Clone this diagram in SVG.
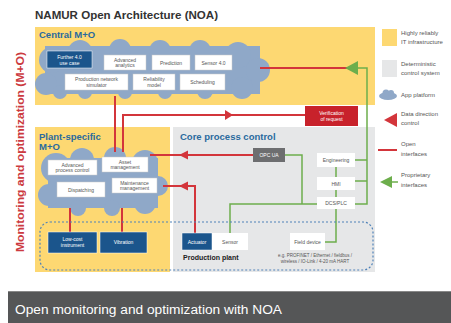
<svg xmlns="http://www.w3.org/2000/svg" width="451" height="323" viewBox="0 0 451 323">
<style>
.t{font-family:"Liberation Sans",Arial,sans-serif}
.title{font-size:11px;font-weight:bold;fill:#333}
.area{font-size:9.5px;font-weight:bold;fill:#2A6A9E}
.nb{fill:#fff;stroke:#c8c8c8;stroke-width:0.5}
.nd{fill:#1B558C;stroke:#fff;stroke-width:0.5}
.nt{font-size:5px;fill:#555;text-anchor:middle}
.ntw{font-size:5px;fill:#fff;text-anchor:middle}
.leg{font-size:6px;fill:#555}
.cloud{fill:#8FA8C8}
.red{stroke:#D3353B;stroke-width:2;fill:none}
.green{stroke:#6DAE4C;stroke-width:1.5;fill:none}
.ra{fill:#D3353B}
.ga{fill:#6DAE4C}
</style>
<rect x="0" y="0" width="451" height="323" fill="#fff"/>
<text class="t title" x="35" y="19" textLength="183" lengthAdjust="spacingAndGlyphs">NAMUR Open Architecture (NOA)</text>
<text class="t" x="0" y="0" transform="translate(24,152) rotate(-90)" text-anchor="middle" font-size="10" font-weight="bold" fill="#CC3A40" textLength="200" lengthAdjust="spacingAndGlyphs">Monitoring and optimization (M+O)</text>

<!-- areas -->
<g id="central-area">
<rect x="35" y="27" width="340" height="78" fill="#FDD872"/>
<text class="t area" x="39" y="38">Central M+O</text>
</g>
<g id="plant-area">
<rect x="35" y="127" width="135" height="145" fill="#FDD872"/>
<text class="t area" x="39" y="140">Plant-specific</text>
<text class="t area" x="39" y="150">M+O</text>
</g>
<g id="core-area">
<rect x="173" y="127" width="202" height="145" fill="#E6E7E8"/>
<text class="t area" x="180" y="140">Core process control</text>
</g>

<!-- clouds -->
<g id="central-cloud" class="cloud">
<rect x="45" y="46" width="215" height="48"/>
<circle cx="52" cy="60" r="13"/>
<circle cx="46" cy="84" r="11"/>
<circle cx="80" cy="52" r="12"/>
<circle cx="120" cy="50" r="11"/>
<circle cx="160" cy="51" r="11"/>
<circle cx="200" cy="51" r="11"/>
<circle cx="238" cy="55" r="13"/>
<circle cx="258" cy="70" r="12"/>
<circle cx="242" cy="88" r="11"/>
<circle cx="205" cy="91" r="8"/>
<circle cx="165" cy="92" r="7"/>
<circle cx="125" cy="92" r="7"/>
<circle cx="85" cy="92" r="7"/>
<circle cx="60" cy="92" r="7"/>
</g>
<g id="plant-cloud" class="cloud">
<rect x="48" y="158" width="110" height="50"/>
<circle cx="56" cy="168" r="15"/>
<circle cx="49" cy="195" r="11"/>
<circle cx="82" cy="160" r="12"/>
<circle cx="115" cy="158" r="11"/>
<circle cx="145" cy="163" r="13"/>
<circle cx="158" cy="186" r="10"/>
<circle cx="145" cy="203" r="11"/>
<circle cx="112" cy="208" r="8"/>
<circle cx="78" cy="208" r="8"/>
</g>

<!-- connectors -->
<g id="connectors">
<path class="red" d="M260,68 H350"/>
<polygon class="ga" points="345,68 358,61 358,75"/>
<path class="green" d="M357,68 H367 V204 H355 M355,160 H367 M355,181 H367"/>
<path class="green" d="M336,167 V177 M336,190 V197 M336,209 V242 H325"/>
<path class="green" d="M285,155 H302 V204 M230,233 V204 H317"/>
<path class="red" d="M115,96 V152"/>
<path class="red" d="M123,152 V115 H305"/>
<polygon class="ra" points="233,115 225,110 225,120"/>
<path class="red" d="M150,155 H253"/>
<polygon class="ra" points="179,155 188,150.5 188,159.5"/>
<path class="red" d="M163,186 H195 V233"/>
<polygon class="ra" points="179,186 188,181.5 188,190.5"/>
<path class="red" d="M70,208 V232 M122,208 V232"/>
<rect x="40" y="222" width="333" height="48" rx="10" fill="none" stroke="#4F82B8" stroke-width="1.2" stroke-dasharray="2,2"/>
</g>

<!-- central nodes -->
<g id="n-further"><rect class="nd" x="47" y="51" width="45" height="17"/><text class="t ntw" x="69.5" y="58.5">Further 4.0</text><text class="t ntw" x="69.5" y="64.5">use case</text></g>
<g id="n-analytics"><rect class="nb" x="104" y="55" width="42" height="15"/><text class="t nt" x="125" y="61.5">Advanced</text><text class="t nt" x="125" y="67">analytics</text></g>
<g id="n-prediction"><rect class="nb" x="152" y="55" width="38" height="15"/><text class="t nt" x="171" y="64.5">Prediction</text></g>
<g id="n-sensor"><rect class="nb" x="195" y="55" width="37" height="15"/><text class="t nt" x="213.5" y="64.5">Sensor 4.0</text></g>
<g id="n-prodsim"><rect class="nb" x="65" y="74" width="63" height="16"/><text class="t nt" x="96.5" y="80.5">Production network</text><text class="t nt" x="96.5" y="86.5">simulator</text></g>
<g id="n-reliability"><rect class="nb" x="133" y="74" width="42" height="16"/><text class="t nt" x="154" y="80.5">Reliability</text><text class="t nt" x="154" y="86.5">model</text></g>
<g id="n-scheduling"><rect class="nb" x="180" y="74" width="45" height="16"/><text class="t nt" x="202.5" y="84">Scheduling</text></g>

<!-- plant nodes -->
<g id="n-apc"><rect class="nb" x="48" y="160" width="49" height="15"/><text class="t nt" x="72.5" y="166.5">Advanced</text><text class="t nt" x="72.5" y="172">process control</text></g>
<g id="n-asset"><rect class="nb" x="102" y="157" width="46" height="15"/><text class="t nt" x="125" y="163.5">Asset</text><text class="t nt" x="125" y="169">management</text></g>
<g id="n-dispatch"><rect class="nb" x="57" y="182" width="48" height="15"/><text class="t nt" x="81" y="191.5">Dispatching</text></g>
<g id="n-maint"><rect class="nb" x="112" y="178" width="45" height="15"/><text class="t nt" x="134.5" y="184.5">Maintenance</text><text class="t nt" x="134.5" y="190">management</text></g>

<!-- field -->
<g id="n-lowcost"><rect class="nd" x="48" y="232" width="49" height="21"/><text class="t ntw" x="72.5" y="241">Low-cost</text><text class="t ntw" x="72.5" y="247">instrument</text></g>
<g id="n-vibration"><rect class="nd" x="100" y="232" width="47" height="21"/><text class="t ntw" x="123.5" y="244">Vibration</text></g>
<g id="n-actuator"><rect class="nd" x="182" y="233" width="30" height="17"/><text class="t ntw" x="197" y="243.5">Actuator</text></g>
<g id="n-sensor2"><rect x="212" y="233" width="36" height="17" fill="#fff"/><text class="t nt" x="230" y="243.5">Sensor</text></g>
<g id="n-field"><rect x="290" y="233" width="35" height="17" fill="#fff"/><text class="t nt" x="307.5" y="243.5">Field device</text></g>
<text class="t" x="183" y="260" font-size="7" font-weight="bold" fill="#222">Production plant</text>
<text class="t" x="315" y="257" font-size="4.5" fill="#555" text-anchor="middle">e.g. PROFINET / Ethernet / fieldbus /</text>
<text class="t" x="315" y="263" font-size="4.5" fill="#555" text-anchor="middle">wireless / IO-Link / 4-20 mA HART</text>

<!-- core nodes -->
<g id="n-opcua"><rect x="253" y="148" width="32" height="14" fill="#6D6E70"/><text class="t ntw" x="269" y="157">OPC UA</text></g>
<g id="n-eng"><rect x="317" y="153" width="38" height="14" fill="#fff"/><text class="t nt" x="336" y="162">Engineering</text></g>
<g id="n-hmi"><rect x="317" y="177" width="38" height="13" fill="#fff"/><text class="t nt" x="336" y="185.5">HMI</text></g>
<g id="n-dcs"><rect x="317" y="197" width="38" height="12" fill="#fff"/><text class="t nt" x="336" y="205">DCS/PLC</text></g>
<g id="n-verify"><rect x="305" y="106" width="53" height="20" fill="#C8222B"/><text class="t ntw" x="331.5" y="114.5">Verification</text><text class="t ntw" x="331.5" y="120.5">of request</text></g>

<!-- legend -->
<g id="legend">
<rect x="382" y="29" width="15" height="17" fill="#FDD872"/>
<text class="t leg" x="401" y="35">Highly reliably</text>
<text class="t leg" x="401" y="44">IT infrastructure</text>
<rect x="382" y="60" width="15" height="17" fill="#E6E7E8"/>
<text class="t leg" x="401" y="66">Deterministic</text>
<text class="t leg" x="401" y="75">control system</text>
<g class="cloud"><ellipse cx="388" cy="96" rx="9" ry="4"/><circle cx="386" cy="93" r="3.5"/><circle cx="391" cy="93" r="3"/></g>
<text class="t leg" x="401" y="97">App platform</text>
<polygon class="ra" points="384,120 397,113 397,127"/>
<text class="t leg" x="401" y="116">Data direction</text>
<text class="t leg" x="401" y="125">control</text>
<path class="red" d="M378,150 H397"/>
<text class="t leg" x="401" y="146">Open</text>
<text class="t leg" x="401" y="156">interfaces</text>
<polygon class="ga" points="380,182 392,176 392,188"/>
<path class="green" d="M391,182 H398"/>
<text class="t leg" x="401" y="177">Proprietary</text>
<text class="t leg" x="401" y="187">interfaces</text>
</g>

<!-- banner -->
<rect x="8" y="291" width="443" height="32" fill="#555657"/>
<line x1="8" y1="291.5" x2="451" y2="291.5" stroke="#888" stroke-width="1"/>
<text class="t" x="15" y="314" font-size="12.5" fill="#fff" textLength="267" lengthAdjust="spacingAndGlyphs">Open monitoring and optimization with NOA</text>
</svg>
